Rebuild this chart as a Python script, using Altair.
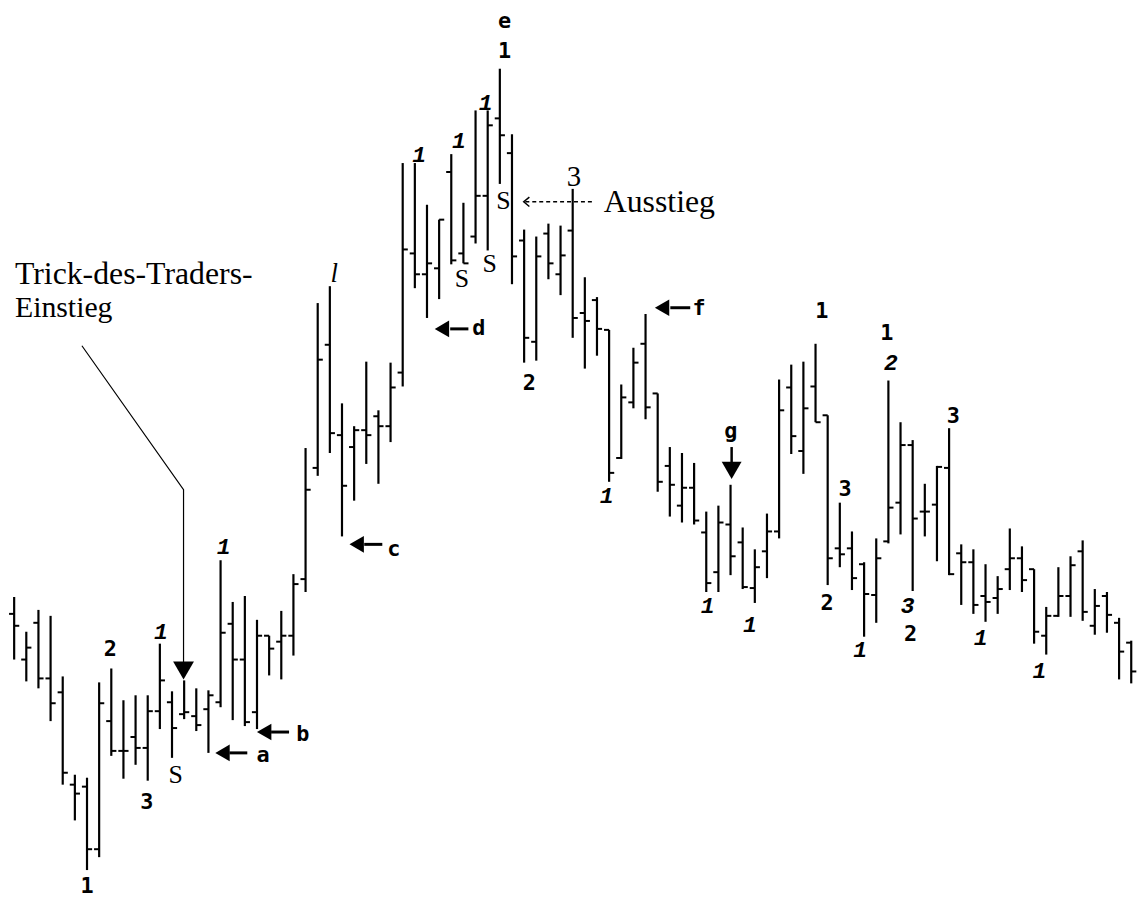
import altair as alt
import pandas as pd

# OHLC values (arbitrary price units)
bar_high = [302, 267, 289, 283, 222, 123, 120, 216, 230, 198, 203, 203, 255, 207, 218, 210, 208, 339, 297, 303,
            279, 263, 288, 325, 452, 598, 615, 497, 474, 539, 490, 538, 739, 739, 697, 682, 748, 699, 792, 792,
            834, 768, 672, 665, 678, 676, 713, 624, 604, 571, 516, 553, 587, 507, 453, 447, 437, 388, 394, 415,
            372, 350, 386, 521, 536, 539, 557, 485, 397, 368, 337, 361, 520, 478, 460, 416, 434, 472, 355, 350,
            335, 323, 371, 353, 330, 292, 332, 343, 359, 310, 307, 281, 258]
bar_low = [239, 217, 210, 177, 113, 77, 27, 40, 142, 119, 133, 117, 169, 140, 179, 167, 145, 191, 178, 172,
           169, 223, 219, 243, 307, 424, 447, 363, 399, 436, 416, 458, 514, 613, 583, 602, 637, 638, 658, 651,
           718, 617, 538, 540, 622, 606, 563, 532, 545, 418, 441, 492, 481, 408, 383, 377, 375, 307, 307, 324,
           310, 296, 321, 361, 446, 426, 478, 314, 332, 309, 262, 276, 356, 365, 308, 363, 338, 324, 294, 285,
           277, 285, 309, 307, 255, 244, 282, 282, 278, 264, 266, 219, 215]
bar_open = [285, 239, 276, 220, 206, 113, 111, 48, 177, 147, 161, 150, 187, 196, 184, 182, 189, 196, 275, 239,
            186, 263, 257, 263, 320, 432, 556, 465, 453, 470, 484, 474, 528, 648, 627, 633, 730, 648, 665, 706,
            784, 749, 661, 559, 668, 627, 671, 588, 601, 571, 442, 498, 557, 507, 434, 394, 412, 367, 327, 375,
            357, 311, 348, 368, 513, 449, 514, 485, 351, 351, 335, 304, 358, 397, 455, 388, 395, 432, 346, 337,
            303, 301, 330, 341, 330, 263, 283, 303, 348, 273, 303, 276, 256]
bar_close = [273, 251, 220, 195, 125, 104, 48, 195, 147, 147, 150, 187, 218, 170, 186, 173, 203, 266, 239, 176,
             263, 250, 263, 315, 410, 541, 467, 414, 470, 465, 474, 513, 652, 627, 638, 682, 641, 638, 706, 777,
             767, 645, 563, 645, 638, 646, 583, 580, 572, 427, 503, 538, 493, 418, 415, 412, 379, 316, 377, 343,
             312, 332, 368, 490, 464, 492, 478, 341, 345, 321, 305, 341, 392, 455, 381, 388, 433, 325, 337, 294,
             297, 310, 341, 319, 267, 283, 303, 334, 287, 293, 284, 247, 227]

# wave-count labels
bold_text = ["1", "2", "3", "e", "1", "2", "1", "2", "3", "1", "2", "3", "a", "b", "c", "d", "f", "g"]
bold_bar = [6.0, 7.92, 10.92, 40.38, 40.38, 42.43, 66.51, 66.96, 68.43, 71.87, 73.83, 77.35,
            20.51, 23.78, 31.26, 38.26, 56.41, 59.03]
bold_price = [11, 250, 95, 882, 852, 517, 590, 296, 411, 568, 265, 484, 143, 164, 350, 573, 593, 469]

ital_text = ["1", "1", "1", "1", "1", "1", "1", "1", "1", "1", "1", "2", "3"]
ital_bar = [12.09, 17.24, 33.35, 36.62, 38.83, 48.8, 57.1, 60.58, 69.66, 79.59, 84.44, 72.2, 73.59]
ital_price = [267, 352, 747, 761, 799, 404, 292.5, 274, 249, 261, 227, 538, 292.5]

serif_text = ["S", "S", "S", "S"]
serif_bar = [13.31, 36.87, 39.16, 40.3]
serif_price = [123, 622, 637, 701]

note_text = ["Trick-des-Traders-", "Einstieg", "Ausstieg"]
note_bar = [0.065, 0.065, 48.56]
note_price = [627, 593, 700]
note_size = [32, 30, 32]

# arrows
left_arrow_bar = [17.16, 20.59, 28.21, 35.23, 53.36]
left_arrow_price = [145, 166, 355, 572, 593.3]
left_shaft_from = [17.73, 21.16, 28.83, 35.91, 54.04]
left_shaft_to = [19.2, 22.64, 30.32, 37.41, 55.68]

trick_path_bar = [5.58, 13.95, 13.95]
trick_path_price = [555, 410, 235]

X = alt.Scale(domain=[-0.507, 92.64], nice=False, zero=False)
Y = alt.Scale(domain=[0, 892], nice=False, zero=False)

n = len(bar_high)
bars = pd.DataFrame({"bar": list(range(n)), "high": bar_high, "low": bar_low,
                     "open": bar_open, "close": bar_close})
bars["left"] = bars["bar"] - 0.42
bars["right"] = bars["bar"] + 0.42

base = alt.Chart(bars)
hl = base.mark_rule(color="black", strokeWidth=2.2).encode(
    x=alt.X("bar:Q", scale=X, axis=None),
    y=alt.Y("low:Q", scale=Y, axis=None), y2="high:Q")
op = base.mark_rule(color="black", strokeWidth=2).encode(
    x=alt.X("left:Q", scale=X, axis=None), x2="bar:Q",
    y=alt.Y("open:Q", scale=Y, axis=None))
cl = base.mark_rule(color="black", strokeWidth=2).encode(
    x=alt.X("bar:Q", scale=X, axis=None), x2="right:Q",
    y=alt.Y("close:Q", scale=Y, axis=None))


def text_layer(texts, xs, ys, **kw):
    df = pd.DataFrame({"t": texts, "x": xs, "y": ys})
    return alt.Chart(df).mark_text(color="black", **kw).encode(
        x=alt.X("x:Q", scale=X, axis=None), y=alt.Y("y:Q", scale=Y, axis=None), text="t:N")


bold = text_layer(bold_text, bold_bar, bold_price, font="DejaVu Sans Mono", fontWeight="bold",
                  fontSize=22, align="center", baseline="middle")
ital = text_layer(ital_text, ital_bar, ital_price, font="Liberation Mono", fontWeight="bold",
                  fontStyle="italic", fontSize=23, align="center", baseline="middle")
serif = text_layer(serif_text, serif_bar, serif_price, font="Liberation Serif",
                   fontSize=26, align="center", baseline="middle")
three = text_layer(["3"], [46.11], [724.5], font="Liberation Serif",
                   fontSize=29, align="center", baseline="middle")
ell = text_layer(["l"], [26.37], [627], font="Liberation Serif", fontStyle="italic",
                 fontSize=27, align="center", baseline="middle")
notes_df = pd.DataFrame({"t": note_text, "x": note_bar, "y": note_price, "s": note_size})
notes = alt.Chart(notes_df).mark_text(color="black", font="Liberation Serif", align="left",
                                      baseline="middle").encode(
    x=alt.X("x:Q", scale=X, axis=None), y=alt.Y("y:Q", scale=Y, axis=None), text="t:N",
    size=alt.Size("s:Q", scale=None, legend=None))

arr_df = pd.DataFrame({"x": left_arrow_bar, "y": left_arrow_price,
                       "x1": left_shaft_from, "x2": left_shaft_to})
tri_left = alt.Chart(arr_df).mark_point(shape="triangle-left", filled=True, color="black",
                                        size=280, opacity=1).encode(
    x=alt.X("x:Q", scale=X, axis=None), y=alt.Y("y:Q", scale=Y, axis=None))
shafts = alt.Chart(arr_df).mark_rule(color="black", strokeWidth=3).encode(
    x=alt.X("x1:Q", scale=X, axis=None), x2="x2:Q", y=alt.Y("y:Q", scale=Y, axis=None))

down_df = pd.DataFrame({"x": [59.09, 13.95], "y": [429.5, 228], "s": [400, 441]})
tri_down = alt.Chart(down_df).mark_point(shape="triangle-down", filled=True, color="black",
                                         opacity=1).encode(
    x=alt.X("x:Q", scale=X, axis=None), y=alt.Y("y:Q", scale=Y, axis=None),
    size=alt.Size("s:Q", scale=None, legend=None))
g_df = pd.DataFrame({"x": [59.09], "y": [453], "y2": [436]})
g_shaft = alt.Chart(g_df).mark_rule(color="black", strokeWidth=2.5).encode(
    x=alt.X("x:Q", scale=X, axis=None), y=alt.Y("y:Q", scale=Y, axis=None), y2="y2:Q")

trick_df = pd.DataFrame({"x": trick_path_bar, "y": trick_path_price, "o": [0, 1, 2]})
trick = alt.Chart(trick_df).mark_line(color="black", strokeWidth=1.2).encode(
    x=alt.X("x:Q", scale=X, axis=None), y=alt.Y("y:Q", scale=Y, axis=None), order="o:Q")

aus_df = pd.DataFrame({"x": [42.1], "x2": [47.66], "y": [700]})
aus_line = alt.Chart(aus_df).mark_rule(color="black", strokeWidth=1.4, strokeDash=[4, 3]).encode(
    x=alt.X("x:Q", scale=X, axis=None), x2="x2:Q", y=alt.Y("y:Q", scale=Y, axis=None))
aus_head = alt.Chart(pd.DataFrame({"x": [42.2], "y": [700]})).mark_point(
    shape="M0.6,-1L-0.6,0L0.6,1", filled=False, color="black", size=90, strokeWidth=1.5,
    opacity=1).encode(x=alt.X("x:Q", scale=X, axis=None), y=alt.Y("y:Q", scale=Y, axis=None))

chart = alt.layer(hl, op, cl, trick, tri_down, g_shaft, tri_left, shafts, aus_line, aus_head,
                  bold, ital, serif, three, ell, notes).properties(
    width=1139, height=892, padding=0, autosize="none", background="white"
).configure_view(stroke=None)

chart.save("out.html", embed_options={"renderer": "svg", "actions": False})
